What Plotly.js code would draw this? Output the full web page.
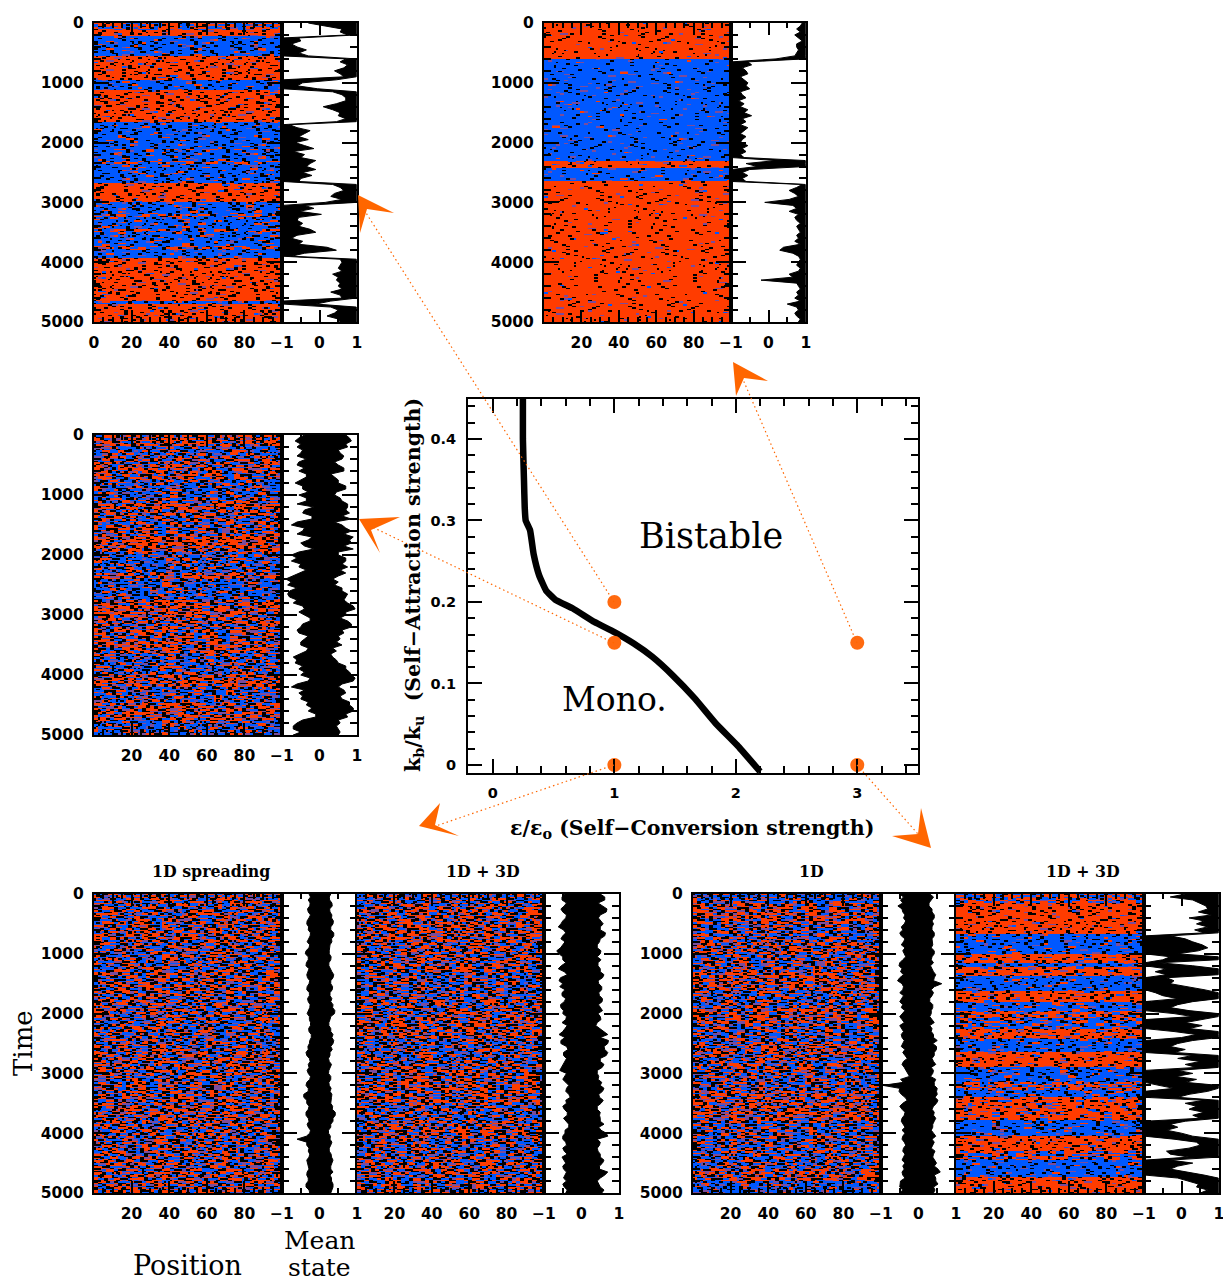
<!DOCTYPE html>
<html><head><meta charset="utf-8">
<script src="https://cdn.plot.ly/plotly-3.0.1.min.js"></script>
<style>html,body{margin:0;padding:0;background:#fff}#g{width:1223px;height:1284px}</style>
</head><body><div id="g"></div>
<script>
// ---------- phase diagram ----------
const boundaryX = [0.247,0.247,0.256,0.262,0.27,0.306,0.335,0.38,0.438,0.512,0.659,0.835,1.0,1.16,1.31,1.48,1.66,1.835,2.01,2.2];
const boundaryY = [0.451,0.4,0.349,0.316,0.30,0.288,0.259,0.233,0.214,0.203,0.192,0.1755,0.163,0.149,0.133,0.11,0.082,0.051,0.0245,-0.008];
const dotX = [1,1,3,1,3];
const dotY = [0.2,0.15,0.15,0,0];

// ---------- heat panels: band = [end time, share of red sites] ----------
const bandsA = [[120,.52],[235,.93],[555,.08],[945,.94],[1120,.06],[1655,.94],[2090,.07],[2120,.45],[2310,.09],[2350,.45],[2665,.08],[3010,.95],[3200,.1],[3240,.48],[3450,.1],[3490,.48],[3730,.1],[3790,.45],[3915,.05],[4640,.95],[4710,.1],[5000,.94]];
const bandsB = [[600,.97],[2290,.03],[2415,.92],[2655,.04],[5000,.97]];
const bandsC = [[170,.7],[360,.3],[450,.5],[600,.62],[750,.55],[1055,.3],[1140,.5],[1220,.75],[1360,.6],[1530,.45],[1670,.5],[1840,.8],[1950,.7],[2300,.3],[2390,.65],[2750,.25],[2970,.7],[3300,.6],[3420,.5],[3630,.65],[3970,.35],[4190,.7],[4470,.35],[4750,.65],[5000,.35]];
const bandsE = [[400,.5],[800,.56],[1300,.46],[1700,.54],[2100,.5],[2600,.44],[3000,.54],[3500,.5],[3900,.56],[4300,.46],[4700,.52],[5000,.58]];
const bandsF = [[200,.45],[500,.55],[800,.64],[1100,.5],[1300,.62],[1700,.4],[2000,.5],[2400,.62],[2800,.4],[3100,.52],[3500,.6],[3800,.38],[4100,.62],[4400,.42],[4700,.55],[5000,.5]];
const bandsG = [[150,.35],[500,.62],[800,.4],[1000,.6],[1300,.45],[1600,.65],[1900,.4],[2150,.62],[2500,.42],[2700,.6],[3000,.5],[3300,.4],[3550,.6],[3800,.66],[4100,.38],[4300,.45],[4600,.4],[4800,.62],[5000,.2]];
const bandsH = [[140,.55],[670,.95],[1000,.08],[1140,.85],[1230,.1],[1380,.88],[1620,.06],[1790,.9],[1950,.15],[2070,.7],[2260,.3],[2430,.88],[2650,.08],[2900,.92],[3160,.1],[3270,.55],[3400,.1],[3770,.8],[4050,.08],[4300,.92],[4440,.55],[4720,.05],[5000,.93]];
const blackA=.14, blackB=.06, blackC=.25, blackE=.27, blackF=.27, blackG=.25, blackH=.13;

// Hand-typed grain table: the individual speckles could not be read cell by cell,
// so this is an illustrative texture, combined with the band shares above.
const GRAIN = [
"33370011999526668441177722005553399884416602277735",
"81144426600773359921188854423337700669951128844260",
"55009917733264488110336629955770044881226639917703",
"27766338855001194423377700228866115599440033772266",
"90044772211669983355008844771122993366550077114488",
"46613399550022887744116633009977225588441100669933",
"12288005566337711994400662288335577110099446622885",
"73355991144880066223377995500114488662233770099551",
"08844226677115533990066448811772255330099664411227",
"65511007733998844226611550077339944882266110055773",
"39922664400557711883300226699114477550033886622440",
"14477883322996600551144887733002266995511447788330",
"82200551199443377660088225511993344776600228855119",
"57766112288005544993366771100882255446699331177002",
"20033994466778811225500339966448877112200554433996",
"96688441100223355777799001166338844225500996677113",
"41155770033668899224411557700996633882211446655007",
"78800224499116655333388770022445511996666003377881",
"33399660077554422118866990033771144225588006611994",
"05522887711336600994455228877661133009944775522116",
"69944113355882277006611449922335588770066119944223",
"12277660099441155883322770066995544118833220077665",
"88833005544776622119900335588441166770022993355448",
"40066992211885533447777001122669988335544006611772",
"75511338866004499226655113377880022994466115500339",
"26699770044552211883366009911447755226688330099114",
"91133225588667700449922775500336611884499002277556",
"54488006611993377225500884466112299773355660011882",
"37700554422119988663311006677445522993388114400667",
"80022779933664411557788223300991166447755228866113",
"16655441188002299337766115544880033226699774411005",
"63399226677115500884422996633771100558844223366997",
"29944880011337766552200778899446611332255007799441",
"75511663344990022778855114466003399882211667744550",
"48866001199225577334466998800113355776622449900118",
"02233775544668811009977332266558844119900667733225"
];

// ---------- mean state, sampled every 50 time units ----------
// Bistable panels: the free edge of the black trace; the other edge sits at the saturated side of the current band.
const edgeA=[-.3,.2,.6,.55,.75,-.55,-.5,-.75,-.6,-.35,-.55,-.3,.7,.55,.75,.65,.4,.55,.65,.45,-.45,-.6,-.05,.35,.6,.7,.7,.45,.1,.35,.55,.5,.7,.45,-.8,-.6,-.25,-.4,-.55,-.3,-.65,-.4,-.15,-.7,-.4,-.5,-.1,-.25,-.35,-.1,-.45,-.2,-.5,-.55,.35,.55,.65,.4,.3,.6,.15,-.4,-.15,-.55,.05,-.55,-.6,-.45,-.55,-.25,-.1,-.6,-.75,-.45,-.55,.2,.45,-.4,-.75,.55,.6,.55,.5,.6,.35,.5,.45,.55,.5,.6,.3,.55,.6,.3,-.1,.3,.5,.4,.2,.5,.55];
const edgeB=[.9,.85,.75,.85,.7,.8,.9,.75,.75,.8,.75,.7,.2,-.55,-.45,-.7,-.6,-.55,-.75,-.65,-.55,-.6,-.5,-.75,-.7,-.6,-.8,-.65,-.75,-.55,-.65,-.45,-.7,-.6,-.75,-.55,-.65,-.75,-.6,-.7,-.75,-.55,-.7,-.6,-.75,-.65,.2,-.6,-.3,-.5,-.7,-.55,-.7,-.6,.9,.75,.55,.7,.8,.55,-.1,.65,.75,.55,.8,.7,.75,.85,.75,.8,.85,.75,.8,.7,.85,.4,.3,.65,.8,.85,.8,.75,.85,.8,.55,.65,-.2,.75,.8,.85,.75,.8,.7,.85,.5,.75,.8,.7,.75,.85,.8];
const edgeH=[.1,-.3,.3,.5,.65,.7,.45,.8,.2,.6,.4,.7,.35,.6,-.3,.1,.3,.55,.7,.45,-.1,-.3,-.5,-.6,.3,-.4,-.7,-.4,-.4,-.2,-.3,.1,.6,-.7,-.5,-.1,.3,-.1,-.3,.2,-.2,.3,.5,.1,.55,.2,-.2,.4,0,.3,-.1,-.3,.1,-.2,.3,-.1,.5,.1,.4,-.1,.3,-.15,.4,.1,-.6,-.2,.7,.2,-.1,.6,.1,.4,.2,.6,.3,.5,.1,-.3,-.1,-.4,0,.3,-.2,.4,.5,.2,-.4,-.3,.2,-.3,.3,-.1,-.3,.2,.6,-.1,.2,.45,.4,.7,.5];
// Monostable panels: low and high edge of the black trace.
const loC=[-.4,-.55,-.65,-.5,-.6,-.45,-.5,-.6,-.35,-.55,-.6,-.4,-.55,-.35,-.35,-.5,-.65,-.45,-.45,-.3,-.55,-.35,-.35,-.6,-.15,-.4,-.45,-.2,-.2,-.6,-.75,-.4,-.45,-.6,-.2,-.3,-.5,-.4,-.15,-.55,-.75,-.6,-.75,-.5,-.55,-.35,-.55,-.7,-.9,-.75,-.85,-.6,-.8,-.85,-.8,-.6,-.7,-.45,-.4,-.55,-.4,-.25,-.25,-.45,-.5,-.6,-.55,-.3,-.4,-.5,-.5,-.3,-.35,-.55,-.7,-.6,-.65,-.45,-.55,-.4,-.5,-.25,-.3,-.6,-.75,-.4,-.55,-.45,-.5,-.3,-.35,-.2,-.3,-.1,-.1,-.45,-.6,-.7,-.7,-.5,-.7];
const hiC=[.7,.8,.85,.7,.75,.5,.55,.65,.6,.4,.5,.65,.65,.3,.4,.5,.5,.7,.7,.45,.4,.55,.6,.75,.75,.7,.8,.6,.85,.4,.6,.7,.85,.65,.9,.8,.85,.65,.9,.5,.5,.7,.7,.6,.75,.55,.7,.5,.35,.5,.4,.6,.6,.75,.7,.65,.75,.9,.95,.7,.7,.55,.75,.85,.85,.6,.65,.5,.55,.45,.6,.35,.45,.3,.35,.45,.5,.7,.7,.8,.85,.95,.9,.6,.5,.65,.7,.55,.6,.8,.8,.9,.9,.7,.75,.5,.55,.45,.5,.55,.5];
const loE=[-.28,-.24,-.3,-.25,-.26,-.32,-.3,-.24,-.28,-.33,-.34,-.29,-.3,-.24,-.25,-.3,-.33,-.26,-.28,-.36,-.38,-.3,-.3,-.35,-.36,-.28,-.3,-.34,-.32,-.26,-.28,-.33,-.34,-.27,-.27,-.32,-.3,-.25,-.26,-.3,-.33,-.27,-.27,-.24,-.24,-.29,-.28,-.22,-.22,-.26,-.27,-.31,-.3,-.36,-.34,-.27,-.25,-.3,-.28,-.33,-.3,-.24,-.26,-.34,-.36,-.3,-.3,-.42,-.42,-.34,-.34,-.28,-.3,-.36,-.36,-.3,-.28,-.33,-.3,-.24,-.26,-.35,-.6,-.34,-.34,-.28,-.3,-.26,-.28,-.34,-.32,-.28,-.28,-.33,-.34,-.3,-.3,-.36,-.36,-.28,-.26];
const hiE=[.3,.26,.27,.33,.34,.27,.28,.33,.32,.37,.36,.3,.3,.38,.38,.32,.33,.28,.28,.26,.26,.31,.3,.25,.25,.3,.33,.38,.36,.3,.3,.35,.34,.28,.28,.33,.3,.36,.35,.41,.4,.3,.28,.25,.25,.3,.3,.36,.33,.38,.36,.3,.34,.28,.28,.24,.26,.32,.28,.25,.24,.3,.3,.25,.26,.31,.28,.33,.32,.3,.3,.35,.34,.42,.42,.36,.36,.3,.3,.24,.24,.29,.28,.33,.3,.26,.26,.31,.32,.36,.34,.3,.3,.36,.28,.32,.32,.36,.36,.33,.3];
const loF=[-.45,-.52,-.52,-.4,-.46,-.55,-.5,-.4,-.42,-.5,-.55,-.62,-.48,-.42,-.5,-.55,-.44,-.5,-.56,-.66,-.6,-.5,-.5,-.42,-.54,-.62,-.46,-.38,-.56,-.6,-.5,-.58,-.44,-.52,-.52,-.42,-.46,-.56,-.55,-.48,-.5,-.4,-.42,-.52,-.38,-.44,-.5,-.6,-.44,-.55,-.55,-.4,-.36,-.48,-.48,-.4,-.44,-.5,-.52,-.58,-.4,-.46,-.5,-.42,-.34,-.4,-.42,-.34,-.3,-.42,-.4,-.5,-.46,-.38,-.38,-.48,-.42,-.34,-.34,-.44,-.44,-.5,-.5,-.42,-.4,-.5,-.46,-.38,-.52,-.46,-.42,-.5,-.48,-.4,-.44,-.48,-.4,-.5,-.46,-.38,-.42];
const hiF=[.5,.62,.62,.44,.54,.68,.66,.5,.45,.52,.58,.5,.5,.64,.62,.5,.48,.42,.42,.52,.5,.42,.52,.44,.44,.5,.5,.6,.56,.44,.46,.54,.54,.46,.48,.56,.55,.45,.5,.56,.44,.5,.52,.42,.38,.5,.6,.7,.5,.72,.7,.6,.62,.7,.66,.5,.5,.6,.55,.42,.42,.46,.44,.54,.5,.6,.56,.46,.48,.58,.52,.42,.42,.5,.48,.5,.5,.6,.46,.52,.66,.7,.42,.5,.48,.42,.44,.5,.5,.6,.56,.48,.48,.7,.62,.5,.42,.46,.5,.6,.54];
const loG=[-.5,-.4,-.48,-.42,-.55,-.44,-.42,-.36,-.4,-.34,-.38,-.46,-.42,-.5,-.46,-.36,-.4,-.46,-.36,-.42,-.38,-.34,-.42,-.5,-.52,-.44,-.48,-.4,-.5,-.56,-.44,-.4,-.42,-.5,-.4,-.46,-.5,-.42,-.46,-.36,-.42,-.5,-.44,-.38,-.5,-.44,-.4,-.46,-.44,-.38,-.42,-.46,-.36,-.42,-.36,-.3,-.4,-.44,-.38,-.34,-.3,-.24,-.48,-.4,-.95,-.5,-.52,-.46,-.36,-.3,-.42,-.5,-.44,-.36,-.38,-.44,-.46,-.4,-.36,-.44,-.36,-.42,-.44,-.38,-.34,-.4,-.42,-.36,-.4,-.44,-.36,-.42,-.38,-.44,-.42,-.36,-.48,-.5,-.5,-.42,-.5];
const hiG=[.3,.4,.34,.28,.28,.36,.36,.42,.42,.36,.4,.36,.36,.42,.42,.36,.36,.38,.34,.42,.42,.36,.34,.4,.32,.36,.4,.46,.42,.4,.62,.42,.34,.4,.36,.3,.3,.38,.38,.34,.34,.3,.36,.42,.3,.36,.34,.4,.4,.5,.38,.48,.48,.42,.42,.36,.4,.46,.34,.4,.38,.32,.46,.42,.42,.5,.48,.5,.44,.52,.48,.4,.36,.42,.4,.46,.42,.38,.38,.34,.4,.46,.36,.42,.38,.34,.44,.4,.38,.44,.48,.42,.52,.58,.42,.46,.46,.52,.4,.44,.4];

// ---------- labels ----------
const heatTicks = [20,40,60,80];
const heatTicksZero = [0,20,40,60,80];
const timeTicks = [0,1000,2000,3000,4000,5000];
const meanTicks = [-1,0,1];

// ---------- page geometry ----------
const W=1223, H=1284;
const px=x=>x/W, py=y=>1-y/H;
const SAT=.98;
function shareAt(bands,t){for(const b of bands){if(t<=b[0])return b[1];}return bands[bands.length-1][1];}
function fromEdge(edge,bands){
  const lo=[],hi=[];
  edge.forEach((e,i)=>{const t=i*5000/(edge.length-1);
    if(shareAt(bands,t)>.5){lo.push(e);hi.push(SAT);}else{lo.push(-SAT);hi.push(e);}});
  return {lo,hi};
}
const mA=fromEdge(edgeA,bandsA), mB=fromEdge(edgeB,bandsB), mH=fromEdge(edgeH,bandsH);
const panels=[
 {bands:bandsA,black:blackA,blend:.03,lo:mA.lo,hi:mA.hi,x:[94,282,357],y:[23,322],ticks:heatTicksZero,off:0,timeLabels:true},
 {bands:bandsB,black:blackB,blend:.02,lo:mB.lo,hi:mB.hi,x:[544,731,806],y:[23,322],ticks:heatTicks,off:7,timeLabels:true},
 {bands:bandsC,black:blackC,blend:.08,lo:loC,hi:hiC,x:[94,282,357],y:[435,735],ticks:heatTicks,off:13,timeLabels:true},
 {bands:bandsE,black:blackE,blend:.08,lo:loE,hi:hiE,x:[94,282,357],y:[894,1193],ticks:heatTicks,off:19,timeLabels:true},
 {bands:bandsF,black:blackF,blend:.08,lo:loF,hi:hiF,x:[357,544,619],y:[894,1193],ticks:heatTicks,off:25,timeLabels:false},
 {bands:bandsG,black:blackG,blend:.08,lo:loG,hi:hiG,x:[693,881,956],y:[894,1193],ticks:heatTicks,off:30,timeLabels:true},
 {bands:bandsH,black:blackH,blend:.03,lo:mH.lo,hi:mH.hi,x:[956,1144,1219],y:[894,1193],ticks:heatTicks,off:4,timeLabels:false}
];
const tickFont={family:'DejaVu Sans',size:15.5,color:'#000',weight:700};
const RED='#ff3c00',BLUE='#0058ff',BLACK='#000000',PURPLE='#7a4c9c';
const ROWS=200,COLS=94;
function grain(r,c){const row=GRAIN[r%GRAIN.length];return +row[c%row.length];}
function buildZ(p){
  const z=[];
  for(let i=0;i<ROWS;i++){
    const t=(i+.5)*5000/ROWS, s=shareAt(p.bands,t), rr=i+p.off, sh=Math.floor(i/GRAIN.length)*17+p.off*3, row=[];
    for(let j=0;j<COLS;j++){
      const cc=j+sh, c2=Math.floor(j/2)+sh;
      const v=(grain(rr,c2)*10+grain(rr+5,c2+3))/100;
      const k=(grain(rr+11,cc+23)*10+grain(rr+17,cc+31))/100;
      if(k<p.black) row.push(2);
      else if(Math.abs(v-s)<p.blend) row.push(3);
      else row.push(v<s?1:0);
    }
    z.push(row);
  }
  return z;
}
const data=[], layout={width:W,height:H,margin:{l:0,r:0,t:0,b:0},paper_bgcolor:'#fff',plot_bgcolor:'#fff',showlegend:false,shapes:[],annotations:[]};
function axisBase(){return {showgrid:false,zeroline:false,showline:true,linecolor:'#000',linewidth:2,mirror:'allticks',ticks:'inside',tickcolor:'#000',tickwidth:2,tickfont:tickFont,tickmode:'array',fixedrange:true,ticklabelstandoff:5,ticklabeloverflow:'allow'};}
function inc(a,b,s){const o=[];for(let v=a;v<=b+1e-9;v+=s){o.push(+v.toFixed(4));}return o;}
let n=1;
panels.forEach(p=>{
  const hx=n,hy=n;
  data.push({type:'heatmap',z:buildZ(p),x0:50/COLS,dx:100/COLS,y0:5000/ROWS/2,dy:5000/ROWS,zmin:0,zmax:3,zsmooth:false,showscale:false,hoverinfo:'skip',
    colorscale:[[0,BLUE],[.25,BLUE],[.25,RED],[.5,RED],[.5,BLACK],[.75,BLACK],[.75,PURPLE],[1,PURPLE]],xaxis:'x'+hx,yaxis:'y'+hy});
  layout['xaxis'+hx]=Object.assign(axisBase(),{domain:[px(p.x[0]),px(p.x[1])],range:[0,100],tickvals:p.ticks,ticklen:12,anchor:'y'+hy,
    minor:{tickmode:'array',tickvals:inc(0,100,5),ticks:'inside',ticklen:5,tickwidth:2,tickcolor:'#000'}});
  layout['yaxis'+hy]=Object.assign(axisBase(),{domain:[py(p.y[1]),py(p.y[0])],range:[5000,0],tickvals:timeTicks,showticklabels:p.timeLabels,ticklen:15,anchor:'x'+hx,
    minor:{tickmode:'array',tickvals:inc(0,5000,200),ticks:'inside',ticklen:7,tickwidth:2,tickcolor:'#000'}});
  n++;
  const mt=p.lo.map((_,i)=>i*5000/(p.lo.length-1));
  data.push({type:'scatter',mode:'lines',x:p.lo.concat(p.hi.slice().reverse()),y:mt.concat(mt.slice().reverse()),fill:'toself',fillcolor:'#000',line:{color:'#000',width:1},hoverinfo:'skip',xaxis:'x'+n,yaxis:'y'+n});
  layout['xaxis'+n]=Object.assign(axisBase(),{domain:[px(p.x[1]),px(p.x[2])],range:[-1,1],tickvals:meanTicks,ticklen:12,anchor:'y'+n,
    minor:{tickmode:'array',tickvals:[-.5,.5],ticks:'inside',ticklen:5,tickwidth:2,tickcolor:'#000'}});
  layout['yaxis'+n]=Object.assign(axisBase(),{domain:[py(p.y[1]),py(p.y[0])],range:[5000,0],tickvals:timeTicks,showticklabels:false,ticklen:15,anchor:'x'+n,
    minor:{tickmode:'array',tickvals:inc(0,5000,200),ticks:'inside',ticklen:7,tickwidth:2,tickcolor:'#000'}});
  n++;
});
data.push({type:'scatter',mode:'lines',x:boundaryX,y:boundaryY,line:{color:'#000',width:6.5,shape:'spline',smoothing:.35},hoverinfo:'skip',xaxis:'x'+n,yaxis:'y'+n});
data.push({type:'scatter',mode:'markers',x:dotX,y:dotY,marker:{color:'#ff6a10',size:14},hoverinfo:'skip',xaxis:'x'+n,yaxis:'y'+n});
layout['xaxis'+n]=Object.assign(axisBase(),{domain:[px(468),px(918)],range:[-0.205,3.5],tickvals:[0,1,2,3],ticklen:14,anchor:'y'+n,ticklabelstandoff:6,tickfont:Object.assign({},tickFont,{size:14.5}),
  minor:{tickmode:'array',tickvals:inc(-.2,3.4,.2),ticks:'inside',ticklen:7,tickwidth:2,tickcolor:'#000'}});
layout['yaxis'+n]=Object.assign(axisBase(),{domain:[py(773),py(399)],range:[-.0098,.449],tickvals:[0,.1,.2,.3,.4],ticktext:['0','0.1','0.2','0.3','0.4'],ticklen:14,anchor:'x'+n,ticklabelstandoff:7,tickfont:Object.assign({},tickFont,{size:14.5}),
  minor:{tickmode:'array',tickvals:inc(0,.44,.02),ticks:'inside',ticklen:7,tickwidth:2,tickcolor:'#000'}});
const ORANGE='#ff6600';
const arrows=[
 {from:[614,602],to:[361,205],head:[[358,195],[394,213],[367,209],[360,233]]},
 {from:[857,643],to:[738,368],head:[[733,362],[768,381],[744,378],[736,396]]},
 {from:[614,643],to:[366,524],head:[[359,519],[400,517],[371,530],[380,553]]},
 {from:[614,765],to:[430,828],head:[[419,826],[440,803],[435,825],[459,836]]},
 {from:[857,765],to:[925,842],head:[[931,848],[892,836],[918,834],[921,808]]}
];
arrows.forEach(a=>{
  layout.shapes.push({type:'line',xref:'paper',yref:'paper',x0:px(a.from[0]),y0:py(a.from[1]),x1:px(a.to[0]),y1:py(a.to[1]),line:{color:ORANGE,width:1.2,dash:'1.5px,3px'},layer:'above'});
  layout.shapes.push({type:'path',xref:'paper',yref:'paper',path:'M'+a.head.map(q=>px(q[0])+','+py(q[1])).join(' L')+' Z',fillcolor:ORANGE,line:{width:0},layer:'above'});
});
function note(text,x,y,size,family,extra){layout.annotations.push(Object.assign({text,xref:'paper',yref:'paper',x:px(x),y:py(y),xanchor:'center',yanchor:'middle',showarrow:false,borderpad:0,font:{family,size,color:'#000'}},extra||{}));}
const SERIF='DejaVu Serif';
note('Bistable',711,536,35,SERIF);
note('Mono.',614,699,33,SERIF);
note('<b>ε/ε<sub>o</sub> (Self−Conversion strength)</b>',692,829,20.5,SERIF);
note('<b>k<sub>b</sub>/k<sub>u</sub>  (Self−Attraction strength)</b>',414,585,20.5,SERIF,{textangle:-90});
note('<b>1D spreading</b>',211,871,15.8,SERIF);
note('<b>1D + 3D</b>',483,871,15.8,SERIF);
note('<b>1D</b>',811,871,15.8,SERIF);
note('<b>1D + 3D</b>',1083,871,15.8,SERIF);
note('Time',23,1043,26,SERIF,{textangle:-90});
note('Position',187,1265,27,SERIF);
note('Mean',319,1240,25,SERIF);
note('state',319,1267,25,SERIF);
Plotly.newPlot('g',data,layout,{staticPlot:true,displayModeBar:false});
</script></body></html>
